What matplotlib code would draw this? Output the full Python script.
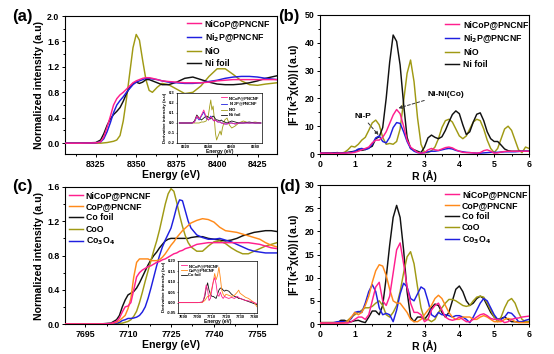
import matplotlib
matplotlib.use("Agg")
import matplotlib.pyplot as plt
from matplotlib.ticker import MultipleLocator, FormatStrFormatter

plt.rcParams['font.family'] = ['Liberation Sans', 'DejaVu Sans']
plt.rcParams['font.weight'] = 'bold'
plt.rcParams['axes.labelweight'] = 'bold'
plt.rcParams['axes.linewidth'] = 0.8

PINK = '#ff1f8e'
BLUE = '#1f1fe0'
OLIVE = '#a09a14'
BLACK = '#111111'
ORANGE = '#ff8a1a'

# ---------------- Panel (a): Ni K-edge XANES ----------------
energy_a = [8306, 8315, 8325, 8328, 8330, 8332, 8334, 8336, 8338, 8340, 8342, 8344, 8346, 8348,
            8350, 8352, 8354, 8356, 8358, 8360, 8363, 8366, 8370, 8375, 8380, 8385, 8390, 8395,
            8400, 8405, 8410, 8415, 8420, 8425, 8430, 8437]
a_nicop = [0, 0, 0.005, 0.02, 0.1, 0.25, 0.42, 0.6, 0.7, 0.76, 0.8, 0.85, 0.9, 0.95, 0.98, 1.0,
           1.02, 1.03, 1.03, 1.02, 1.0, 0.98, 0.97, 0.96, 0.95, 0.95, 0.95, 0.96, 0.98, 0.99, 1.0,
           1.0, 1.0, 1.0, 1.0, 1.0]
a_ni2p = [0, 0, 0.005, 0.02, 0.07, 0.18, 0.32, 0.48, 0.6, 0.67, 0.73, 0.8, 0.86, 0.92, 0.96, 0.98,
          1.0, 1.02, 1.02, 1.01, 1.0, 0.98, 0.96, 0.95, 0.94, 0.94, 0.95, 0.97, 0.99, 1.02, 1.04,
          1.05, 1.05, 1.04, 1.02, 1.0]
a_nio = [0, 0, 0, 0, 0.005, 0.01, 0.02, 0.03, 0.05, 0.12, 0.35, 0.7, 1.1, 1.5, 1.71, 1.62, 1.3,
         1.0, 0.83, 0.8, 0.88, 0.94, 0.92, 0.85, 0.78, 0.8, 0.9, 1.05, 1.17, 1.17, 1.08, 0.98,
         0.92, 0.91, 0.93, 0.95]
a_nifoil = [0, 0, 0.01, 0.05, 0.15, 0.28, 0.38, 0.45, 0.5, 0.56, 0.66, 0.78, 0.88, 0.94, 0.96,
            0.94, 0.96, 1.0, 1.0, 0.98, 0.95, 0.92, 0.92, 0.96, 1.02, 1.04, 1.0, 0.96, 0.93, 0.92,
            0.92, 0.93, 0.95, 0.98, 1.02, 1.06]

# inset (a): derivative
energy_ai = [8315, 8326, 8328, 8330, 8332, 8334, 8336, 8338, 8340, 8341, 8342, 8343, 8344, 8345,
             8346, 8347, 8348, 8350, 8351, 8352, 8354, 8356, 8358, 8360, 8363, 8366, 8370, 8375,
             8380, 8385]
ai_nicop = [0, 0, 0.01, 0.07, 0.04, 0.08, 0.13, 0.06, 0.03, 0.04, 0.06, 0.05, 0.03, 0.02, 0.03,
            0.02, 0.01, 0.01, 0.0, 0.0, -0.01, -0.01, 0.0, 0.0, -0.01, 0.0, 0.0, 0.0, 0.0, 0.0]
ai_ni2p = [0, 0, 0.01, 0.06, 0.03, 0.07, 0.11, 0.05, 0.03, 0.05, 0.07, 0.05, 0.03, 0.02, 0.03,
           0.02, 0.01, 0.01, 0.0, 0.0, -0.01, -0.01, 0.0, 0.0, -0.01, 0.0, 0.0, 0.0, 0.0, 0.0]
ai_nio = [0, 0, 0, 0, 0, 0.01, 0.01, 0.02, 0.08, 0.16, 0.23, 0.13, 0.17, 0.05, -0.1, -0.17, -0.14,
          -0.08, -0.12, -0.05, 0.03, 0.05, -0.02, -0.05, -0.03, 0.0, 0.02, 0.0, 0.01, 0.0]
ai_nifoil = [0, 0, 0.02, 0.08, 0.05, 0.03, 0.05, 0.07, 0.06, 0.05, 0.04, 0.06, 0.07, 0.06, 0.04,
             0.03, 0.03, 0.02, 0.03, 0.02, 0.01, 0.0, 0.01, 0.02, 0.01, 0.0, 0.0, 0.01, 0.0, 0.0]

# ---------------- Panel (b) and (d): FT-EXAFS ----------------
r_grid = [0.0, 0.1, 0.2, 0.3, 0.4, 0.5, 0.6, 0.7, 0.8, 0.9, 1.0, 1.1, 1.2, 1.3, 1.4, 1.5, 1.6, 1.7,
          1.8, 1.9, 2.0, 2.1, 2.2, 2.3, 2.4, 2.5, 2.6, 2.7, 2.8, 2.9, 3.0, 3.1, 3.2, 3.3, 3.4, 3.5,
          3.6, 3.7, 3.8, 3.9, 4.0, 4.1, 4.2, 4.3, 4.4, 4.5, 4.6, 4.7, 4.8, 4.9, 5.0, 5.1, 5.2, 5.3,
          5.4, 5.5, 5.6, 5.7, 5.8, 5.9, 6.0]
b_nicop = [0.3, 0.3, 0.3, 0.3, 0.2, 0.3, 0.3, 0.3, 0.4, 0.4, 0.6, 1.0, 1.5, 2.0, 2.5, 4, 5, 5, 6, 8,
           11, 14, 16, 14.5, 10, 5, 2.5, 1.5, 0.6, 0.3, 0.5, 1.5, 2, 1.5, 1.3, 1.8, 2.3, 2.5, 2.2,
           1.5, 1.0, 0.6, 0.5, 0.5, 0.4, 0.3, 0.5, 1.2, 1.5, 1.0, 0.3, 0.4, 0.7, 0.9, 1.0, 1.0, 1.0,
           1.0, 1.0, 1.0, 1.0]
b_ni2p = [0.3, 0.3, 0.3, 0.3, 0.3, 0.3, 0.3, 0.4, 0.5, 0.6, 1.0, 1.8, 2.0, 1.6, 2.0, 3.5, 5.8, 6.5,
          4.5, 4, 6, 9.5, 11.3, 11, 8, 4.5, 2, 1, 0.5, 0.3, 0.5, 0.8, 1.0, 1.0, 1.2, 1.5, 1.8, 2.0,
          1.8, 1.3, 1.0, 0.8, 0.6, 0.5, 0.4, 0.3, 0.3, 0.4, 0.5, 0.6, 0.6, 0.6, 0.7, 0.8, 0.8, 0.8,
          0.8, 0.9, 1.0, 1.0, 1.0]
b_nio = [0.3, 0.3, 0.3, 0.4, 0.4, 0.3, 0.3, 0.6, 1.5, 2.8, 2.5, 3.5, 5.0, 6.0, 8.5, 11.2, 12.2,
         10.5, 6, 3.5, 3.8, 3.5, 4.5, 9, 19, 29, 33.8, 26, 13, 3.5, 0.5, 0.5, 1.2, 2.5, 5.5, 9.5,
         12, 12.5, 11.5, 9, 6.5, 5.5, 6.5, 9, 11.5, 12.5, 12, 9, 5, 2, 0.5, 2, 5.5, 9, 10, 8.5, 5,
         1.5, 0.5, 2.5, 2]
b_nifoil = [0.3, 0.3, 0.4, 0.3, 0.4, 0.5, 0.3, 0.4, 0.6, 0.8, 1.0, 1.5, 1.3, 1.6, 2.2, 2.8, 5.5,
            6.2, 9.5, 20, 33, 42.8, 40.5, 32, 18, 6, 2.0, 1.5, 1.0, 0.5, 2.5, 5.8, 6.8, 6.0, 5.5,
            6.2, 8.5, 11.5, 14.2, 15.5, 14.5, 10.5, 7, 8, 11.5, 14.3, 14.8, 12, 8, 5.5, 4.5, 4.5,
            3.2, 1.8, 1.2, 1.0, 1.0, 1.0, 1.0, 1.0, 1.0]

d_nicop = [0.2, 0.2, 0.2, 0.2, 0.2, 0.2, 0.2, 0.2, 0.2, 0.5, 1.0, 1.5, 1.5, 1.0, 2.0, 5, 8, 9, 5,
           4, 6, 11, 16, 17.5, 13, 8, 4.5, 2.5, 2.5, 2, 0.5, 1, 3, 4, 4.5, 3, 1.5, 1, 0.8, 1, 1.5,
           1, 0.5, 0.5, 1, 1.5, 2, 2.2, 1.8, 1.2, 1, 1, 0.8, 0.3, 0.5, 1, 1.2, 1.3, 1.5, 1.6, 1.7]
d_cop = [0.2, 0.2, 0.2, 0.2, 0.2, 0.2, 0.2, 0.3, 0.5, 1.5, 2.5, 2, 2.5, 4, 6, 9, 11.5, 12.8, 12.5,
         10.5, 7.5, 5, 4.5, 4.5, 3.5, 2.5, 1, 0.5, 0.5, 1, 2, 3, 4, 5.5, 6.2, 5.5, 4, 2.5, 1.5, 1,
         1, 1.5, 1.5, 1.5, 1, 1, 1.5, 1.8, 1.5, 1, 0.5, 0.5, 0.5, 1, 1.2, 1, 0.5, 0.3, 0.3, 0.3,
         0.3]
d_cofoil = [0.3, 0.3, 0.3, 0.3, 0.3, 0.3, 0.8, 0.8, 0.5, 0.5, 0.7, 0.8, 0.5, 0.3, 1.5, 2.8, 2.8,
            2, 4, 10, 17, 23, 25.6, 23, 16, 7, 1.5, 0.5, 1.5, 1.5, 1, 2, 3.5, 4.3, 4, 2.5, 1.5,
            2.5, 5, 7.5, 8.2, 7, 5, 4, 4.5, 5.5, 6, 5.5, 4, 2.5, 1.5, 1, 1.2, 1.5, 1, 0.5, 0.5,
            0.5, 0.5, 0.5, 0.5]
d_coo = [0.3, 0.3, 0.3, 0.3, 0.3, 0.3, 0.3, 0.3, 0.8, 1.5, 2, 2.5, 3, 3.5, 3.5, 3.8, 4.5, 5, 4, 2,
         1.5, 2.5, 4, 7, 11, 14.5, 15.6, 13, 8, 3.5, 1, 1, 0.5, 1, 2.5, 3.5, 4.5, 5.3, 5.3, 5,
         4.5, 4, 3.8, 4, 5, 5.8, 6, 5.8, 4.5, 3, 1.5, 0.5, 1.5, 3.5, 5, 5.5, 4.5, 2.5, 1, 0.5,
         0.5]
d_co3o4 = [0.2, 0.2, 0.2, 0.2, 0.3, 0.5, 0.5, 0.5, 0.5, 1.2, 2.5, 2.7, 2.5, 4.5, 7, 8.5, 7, 3.5,
           2, 2.3, 2, 0.5, 3, 6.5, 8.8, 8, 5.5, 5, 6.5, 8, 7.5, 5, 2, 1.5, 2.5, 2, 2, 1.8, 1.5,
           1.8, 1.8, 1.5, 1, 0.3, 1.5, 3, 4.5, 5.5, 5, 3.5, 2, 1, 1, 1.5, 2.5, 2.3, 1.5, 0.5, 0.5,
           0.8, 1]

# ---------------- Panel (c): Co K-edge XANES ----------------
energy_c = [7688, 7700, 7704, 7706, 7707, 7708, 7709, 7710, 7711, 7712, 7713, 7714, 7715, 7716,
            7717, 7718, 7719, 7720, 7721, 7722, 7723, 7724, 7725, 7726, 7727, 7728, 7729, 7730,
            7731, 7732, 7734, 7736, 7738, 7740, 7742, 7744, 7746, 7748, 7750, 7752, 7754, 7756,
            7758, 7760, 7762]
c_nicop = [0, 0, 0.005, 0.03, 0.07, 0.14, 0.2, 0.21, 0.25, 0.4, 0.55, 0.6, 0.63, 0.65, 0.67,
           0.68, 0.7, 0.72, 0.73, 0.75, 0.76, 0.78, 0.8, 0.82, 0.83, 0.85, 0.86, 0.88, 0.89, 0.9,
           0.93, 0.94, 0.95, 0.95, 0.95, 0.95, 0.95, 0.95, 0.95, 0.95, 0.94, 0.93, 0.91, 0.89,
           0.88]
c_cop = [0, 0, 0.005, 0.02, 0.04, 0.07, 0.1, 0.18, 0.3, 0.55, 0.72, 0.76, 0.76, 0.76, 0.76,
         0.74, 0.74, 0.74, 0.75, 0.78, 0.82, 0.87, 0.92, 0.96, 1.01, 1.05, 1.09, 1.12, 1.15, 1.18,
         1.21, 1.23, 1.22, 1.19, 1.13, 1.09, 1.08, 1.07, 1.05, 1.03, 1.01, 0.99, 0.95, 0.92, 0.9]
c_cofoil = [0, 0, 0.01, 0.05, 0.1, 0.2, 0.28, 0.34, 0.36, 0.38, 0.42, 0.48, 0.55, 0.62, 0.69,
            0.75, 0.8, 0.84, 0.89, 0.93, 0.97, 0.99, 1.0, 1.0, 1.0, 1.0, 1.0, 1.0, 1.0, 1.01,
            1.02, 1.02, 1.0, 0.99, 0.98, 0.97, 0.98, 1.0, 1.03, 1.05, 1.07, 1.08, 1.09, 1.09,
            1.08]
c_coo = [0, 0, 0, 0.005, 0.01, 0.01, 0.02, 0.03, 0.05, 0.09, 0.15, 0.25, 0.37, 0.5, 0.62, 0.74,
         0.86, 0.97, 1.1, 1.25, 1.4, 1.52, 1.58, 1.55, 1.42, 1.27, 1.14, 1.03, 0.95, 0.9, 0.85,
         0.85, 0.91, 0.96, 0.97, 0.94, 0.89, 0.85, 0.82, 0.82, 0.85, 0.88, 0.91, 0.93, 0.95]
c_co3o4 = [0, 0, 0.005, 0.01, 0.02, 0.04, 0.05, 0.065, 0.065, 0.07, 0.08, 0.1, 0.14, 0.2, 0.3,
           0.42, 0.55, 0.68, 0.8, 0.9, 0.98, 1.05, 1.12, 1.24, 1.37, 1.45, 1.44, 1.32, 1.2, 1.12,
           1.04, 1.01, 0.99, 0.99, 1.0, 0.98, 0.96, 0.93, 0.9, 0.87, 0.85, 0.84, 0.83, 0.83, 0.83]

energy_ci = [7686, 7700, 7703, 7704, 7705, 7706, 7707, 7708, 7709, 7710, 7711, 7712, 7713, 7714,
             7715, 7716, 7717, 7718, 7719, 7720, 7722, 7724, 7726, 7728, 7729, 7730, 7732, 7734,
             7736, 7738, 7740, 7742]
ci_nicop = [0, 0, 0.002, 0.01, 0.04, 0.085, 0.06, 0.01, 0.02, 0.06, 0.1, 0.12, 0.09, 0.04, 0.03,
            0.05, 0.03, 0.02, 0.03, 0.025, 0.02, 0.025, 0.02, 0.03, 0.025, 0.02, 0.015, 0.01,
            0.008, 0.005, 0.0, -0.005]
ci_cop = [0, 0, 0.0, 0.005, 0.01, 0.02, 0.03, 0.03, 0.04, 0.07, 0.1, 0.14, 0.11, 0.13, 0.17,
          0.12, 0.06, 0.04, 0.03, 0.04, 0.035, 0.03, 0.035, 0.05, 0.06, 0.045, 0.035, 0.025,
          0.02, 0.01, 0.0, -0.02]
ci_cofoil = [0, 0, 0.002, 0.01, 0.03, 0.07, 0.095, 0.06, 0.04, 0.03, 0.03, 0.025, 0.02, 0.04,
             0.06, 0.07, 0.068, 0.06, 0.055, 0.06, 0.055, 0.04, 0.03, 0.025, 0.02, 0.02, 0.015,
             0.01, 0.005, 0.0, -0.005, -0.01]

W, H = 554, 354
fig = plt.figure(figsize=(W / 100, H / 100), dpi=100)


def box(l, t, r, b):
    return [l / W, 1 - b / H, (r - l) / W, (b - t) / H]


TICK_FS = 6.3
LAB_FS = 7.6
LEG_FS = 6.3
LW = 1.05


def style(ax, fs=TICK_FS, major=2.5, minor=1.5):
    ax.tick_params(which='both', direction='out', top=False, right=False, labelsize=fs,
                   width=0.7, pad=1.5)
    ax.tick_params(which='major', length=major)
    ax.tick_params(which='minor', length=minor)
    for lab in ax.get_xticklabels() + ax.get_yticklabels():
        lab.set_fontweight('bold')


# ---- (a)
axa = fig.add_axes(box(65, 16, 277, 154))
axa.plot(energy_a, a_nicop, color=PINK, lw=LW, label='NiCoP@PNCNF', zorder=4)
axa.plot(energy_a, a_ni2p, color=BLUE, lw=LW, label=r'Ni$_\mathbf{2}$P@PNCNF', zorder=3)
axa.plot(energy_a, a_nio, color=OLIVE, lw=LW, label='NiO', zorder=2)
axa.plot(energy_a, a_nifoil, color=BLACK, lw=LW, label='Ni foil', zorder=2)
axa.set_xlim(8306, 8437)
axa.set_ylim(-0.17, 2.0)
axa.xaxis.set_major_locator(MultipleLocator(25))
axa.xaxis.set_minor_locator(MultipleLocator(12.5))
axa.yaxis.set_major_locator(MultipleLocator(0.4))
axa.yaxis.set_minor_locator(MultipleLocator(0.2))
axa.yaxis.set_major_formatter(FormatStrFormatter('%.1f'))
axa.set_xlabel('Energy (eV)', fontsize=LAB_FS, labelpad=1)
axa.set_ylabel('Normalized intensity (a.u)', fontsize=LAB_FS, labelpad=2)
style(axa)
axa.legend(loc='upper left', bbox_to_anchor=(0.575, 0.975), frameon=False,
           handlelength=1.6, handletextpad=0.45, labelspacing=0.33, borderpad=0,
           borderaxespad=0, prop={'weight': 'bold', 'size': LEG_FS})

axai = fig.add_axes(box(177, 93, 262, 143))
axai.plot(energy_ai, ai_nicop, color=PINK, lw=0.6, label='NiCoP@PNCNF', zorder=4)
axai.plot(energy_ai, ai_ni2p, color=BLUE, lw=0.6, label=r'Ni$_2$P@PNCNF', zorder=3)
axai.plot(energy_ai, ai_nio, color=OLIVE, lw=0.6, label='NiO')
axai.plot(energy_ai, ai_nifoil, color=BLACK, lw=0.6, label='Ni foil')
axai.set_xlim(8313, 8386)
axai.set_ylim(-0.2, 0.3)
axai.xaxis.set_major_locator(MultipleLocator(20))
axai.yaxis.set_major_locator(MultipleLocator(0.1))
axai.yaxis.set_major_formatter(FormatStrFormatter('%.1f'))
axai.tick_params(labelsize=3, length=1, width=0.4, pad=0.5)
for s in axai.spines.values():
    s.set_linewidth(0.5)
axai.set_xlabel('Energy (eV)', fontsize=3.5, labelpad=0)
axai.set_ylabel('Derivative intensity (a.u)', fontsize=3.2, labelpad=0.5)
axai.legend(loc='upper right', frameon=False, prop={'weight': 'bold', 'size': 3},
            handlelength=1.5, handletextpad=0.3, labelspacing=0.15, borderpad=0.2)

# ---- (b)
axb = fig.add_axes(box(320, 15, 529, 154))
axb.plot(r_grid, b_nicop, color=PINK, lw=LW, label='NiCoP@PNCNF', zorder=4)
axb.plot(r_grid, b_ni2p, color=BLUE, lw=LW, label=r'Ni$_\mathbf{2}$P@PNCNF', zorder=3)
axb.plot(r_grid, b_nio, color=OLIVE, lw=LW, label='NiO')
axb.plot(r_grid, b_nifoil, color=BLACK, lw=LW, label='Ni foil')
axb.set_xlim(0, 6)
axb.set_ylim(0, 50)
axb.xaxis.set_major_locator(MultipleLocator(1))
axb.xaxis.set_minor_locator(MultipleLocator(0.5))
axb.yaxis.set_major_locator(MultipleLocator(10))
axb.yaxis.set_minor_locator(MultipleLocator(5))
axb.set_xlabel('R (Å)', fontsize=LAB_FS, labelpad=1)
axb.set_ylabel(r'|FT(κ$^\mathbf{3}$χ(κ))| (a.u)', fontsize=LAB_FS, labelpad=2)
style(axb)
axb.legend(loc='upper left', bbox_to_anchor=(0.6, 0.96), frameon=False,
           handlelength=1.6, handletextpad=0.45, labelspacing=0.33, borderpad=0,
           borderaxespad=0, prop={'weight': 'bold', 'size': LEG_FS})
arrow = dict(arrowstyle='-|>', linestyle=(0, (3, 2)), color='#333333', lw=0.7,
             mutation_scale=5, shrinkA=0, shrinkB=0)
axb.annotate('Ni-P', xy=(1.68, 6.8), xytext=(1.23, 13.4), fontsize=6, fontweight='bold',
             ha='center', va='center', arrowprops=arrow)
axb.annotate('Ni-Ni(Co)', xy=(2.25, 16.5), xytext=(3.6, 21.5), fontsize=6, fontweight='bold',
             ha='center', va='center', arrowprops=arrow)

# ---- (c)
axc = fig.add_axes(box(65, 187, 277, 324))
axc.plot(energy_c, c_nicop, color=PINK, lw=LW, label='NiCoP@PNCNF', zorder=4)
axc.plot(energy_c, c_cop, color=ORANGE, lw=LW, label='CoP@PNCNF', zorder=3)
axc.plot(energy_c, c_cofoil, color=BLACK, lw=LW, label='Co foil')
axc.plot(energy_c, c_coo, color=OLIVE, lw=LW, label='CoO')
axc.plot(energy_c, c_co3o4, color=BLUE, lw=LW, label=r'Co$_\mathbf{3}$O$_\mathbf{4}$')
axc.set_xlim(7688, 7762)
axc.set_ylim(0, 1.6)
axc.xaxis.set_major_locator(MultipleLocator(15))
axc.xaxis.set_minor_locator(MultipleLocator(7.5))
axc.yaxis.set_major_locator(MultipleLocator(0.4))
axc.yaxis.set_minor_locator(MultipleLocator(0.2))
axc.yaxis.set_major_formatter(FormatStrFormatter('%.1f'))
axc.set_xlabel('Energy (eV)', fontsize=LAB_FS, labelpad=1)
axc.set_ylabel('Normalized intensity (a.u)', fontsize=LAB_FS, labelpad=2)
style(axc)
axc.legend(loc='upper left', bbox_to_anchor=(0.02, 0.97), frameon=False,
           handlelength=1.6, handletextpad=0.3, labelspacing=0.25, borderpad=0,
           borderaxespad=0, prop={'weight': 'bold', 'size': LEG_FS})

axci = fig.add_axes(box(178, 261, 257, 313))
axci.plot(energy_ci, ci_nicop, color=PINK, lw=0.6, label='NiCoP@PNCNF', zorder=4)
axci.plot(energy_ci, ci_cop, color=ORANGE, lw=0.6, label='CoP@PNCNF', zorder=3)
axci.plot(energy_ci, ci_cofoil, color=BLACK, lw=0.6, label='Co foil')
axci.set_xlim(7686, 7742)
axci.set_ylim(-0.05, 0.2)
axci.xaxis.set_major_locator(MultipleLocator(10))
axci.yaxis.set_major_locator(MultipleLocator(0.05))
axci.yaxis.set_major_formatter(FormatStrFormatter('%.2f'))
axci.tick_params(labelsize=3, length=1, width=0.4, pad=0.5)
for s in axci.spines.values():
    s.set_linewidth(0.5)
axci.set_xlabel('Energy (eV)', fontsize=3.5, labelpad=0)
axci.set_ylabel('Derivative intensity (a.u)', fontsize=3.2, labelpad=0.5)
axci.legend(loc='upper left', frameon=False, prop={'weight': 'bold', 'size': 3},
            handlelength=1.5, handletextpad=0.3, labelspacing=0.15, borderpad=0.2)

# ---- (d)
axd = fig.add_axes(box(320, 185, 529, 324))
axd.plot(r_grid, d_nicop, color=PINK, lw=LW, label='NiCoP@PNCNF', zorder=4)
axd.plot(r_grid, d_cop, color=ORANGE, lw=LW, label='CoP@PNCNF', zorder=3)
axd.plot(r_grid, d_cofoil, color=BLACK, lw=LW, label='Co foil')
axd.plot(r_grid, d_coo, color=OLIVE, lw=LW, label='CoO')
axd.plot(r_grid, d_co3o4, color=BLUE, lw=LW, label=r'Co$_\mathbf{3}$O$_\mathbf{4}$')
axd.set_xlim(0, 6)
axd.set_ylim(0, 30)
axd.xaxis.set_major_locator(MultipleLocator(1))
axd.xaxis.set_minor_locator(MultipleLocator(0.5))
axd.yaxis.set_major_locator(MultipleLocator(5))
axd.yaxis.set_minor_locator(MultipleLocator(2.5))
axd.set_xlabel('R (Å)', fontsize=LAB_FS, labelpad=1)
axd.set_ylabel(r'|FT(κ$^\mathbf{3}$χ(κ))| (a.u)', fontsize=LAB_FS, labelpad=2)
style(axd)
axd.legend(loc='upper left', bbox_to_anchor=(0.6, 0.96), frameon=False,
           handlelength=1.6, handletextpad=0.3, labelspacing=0.22, borderpad=0,
           borderaxespad=0, prop={'weight': 'bold', 'size': LEG_FS})

# panel letters
for lbl, x, y in [('(a)', 12, 16), ('(b)', 278, 16), ('(c)', 12, 186), ('(d)', 279, 186)]:
    fig.text(x / W, 1 - y / H, lbl, fontsize=12, fontweight='bold', ha='left', va='center')

fig.savefig('out.png', dpi=100)
